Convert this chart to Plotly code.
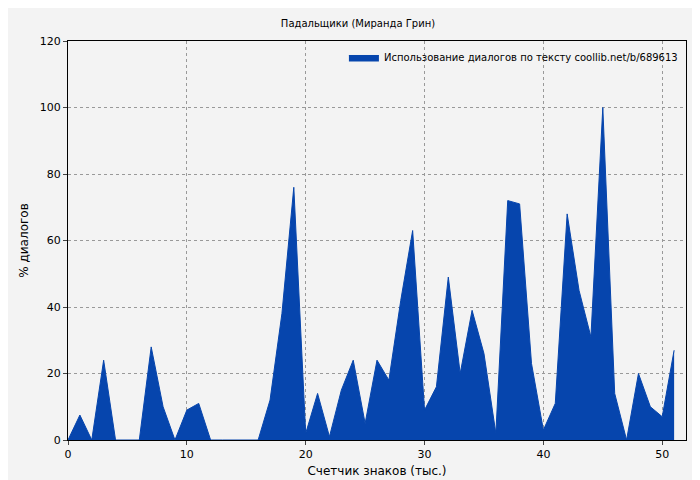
import plotly.graph_objects as go

x = list(range(52))
y = [0, 7.5, 0, 24, 0, 0, 0, 28, 10, 0, 9, 11, 0, 0, 0, 0, 0, 12, 38, 76,
     2, 14, 1, 15, 24, 5, 24, 18, 42, 63, 9, 16, 49, 20, 39, 26, 2, 72, 71, 23,
     3, 11, 68, 45, 31, 100, 14, 0, 20, 10, 7, 27]

fig = go.Figure(go.Scatter(x=x, y=y, mode="lines", fill="tozeroy",
                           line=dict(color="#0645ad", width=1), fillcolor="#0645ad",
                           name="Использование диалогов по тексту coollib.net/b/689613"))
ax = dict(showline=True, linecolor="black", mirror=True, ticks="outside", ticklen=4,
          gridcolor="#999", griddash="dot", zeroline=False,
          tickfont=dict(size=11, color="black"))
fig.update_layout(
    width=700, height=480, paper_bgcolor="#f3f3f3", plot_bgcolor="#f3f3f3",
    font=dict(family="DejaVu Sans", size=10, color="black"),
    title=dict(text="Падальщики (Миранда Грин)", x=0.5, y=0.975, font=dict(size=10)),
    margin=dict(l=60, r=22, t=33, b=40),
    showlegend=True,
    legend=dict(x=0.995, y=0.995, xanchor="right", yanchor="top", bgcolor="rgba(0,0,0,0)",
                font=dict(size=10)),
    xaxis=dict(ax, range=[0, 52], dtick=10, title=dict(text="Счетчик знаков (тыс.)", standoff=6)),
    yaxis=dict(ax, range=[0, 120], dtick=20, title=dict(text="% диалогов", standoff=8)),
)
fig.write_html("out.html")
